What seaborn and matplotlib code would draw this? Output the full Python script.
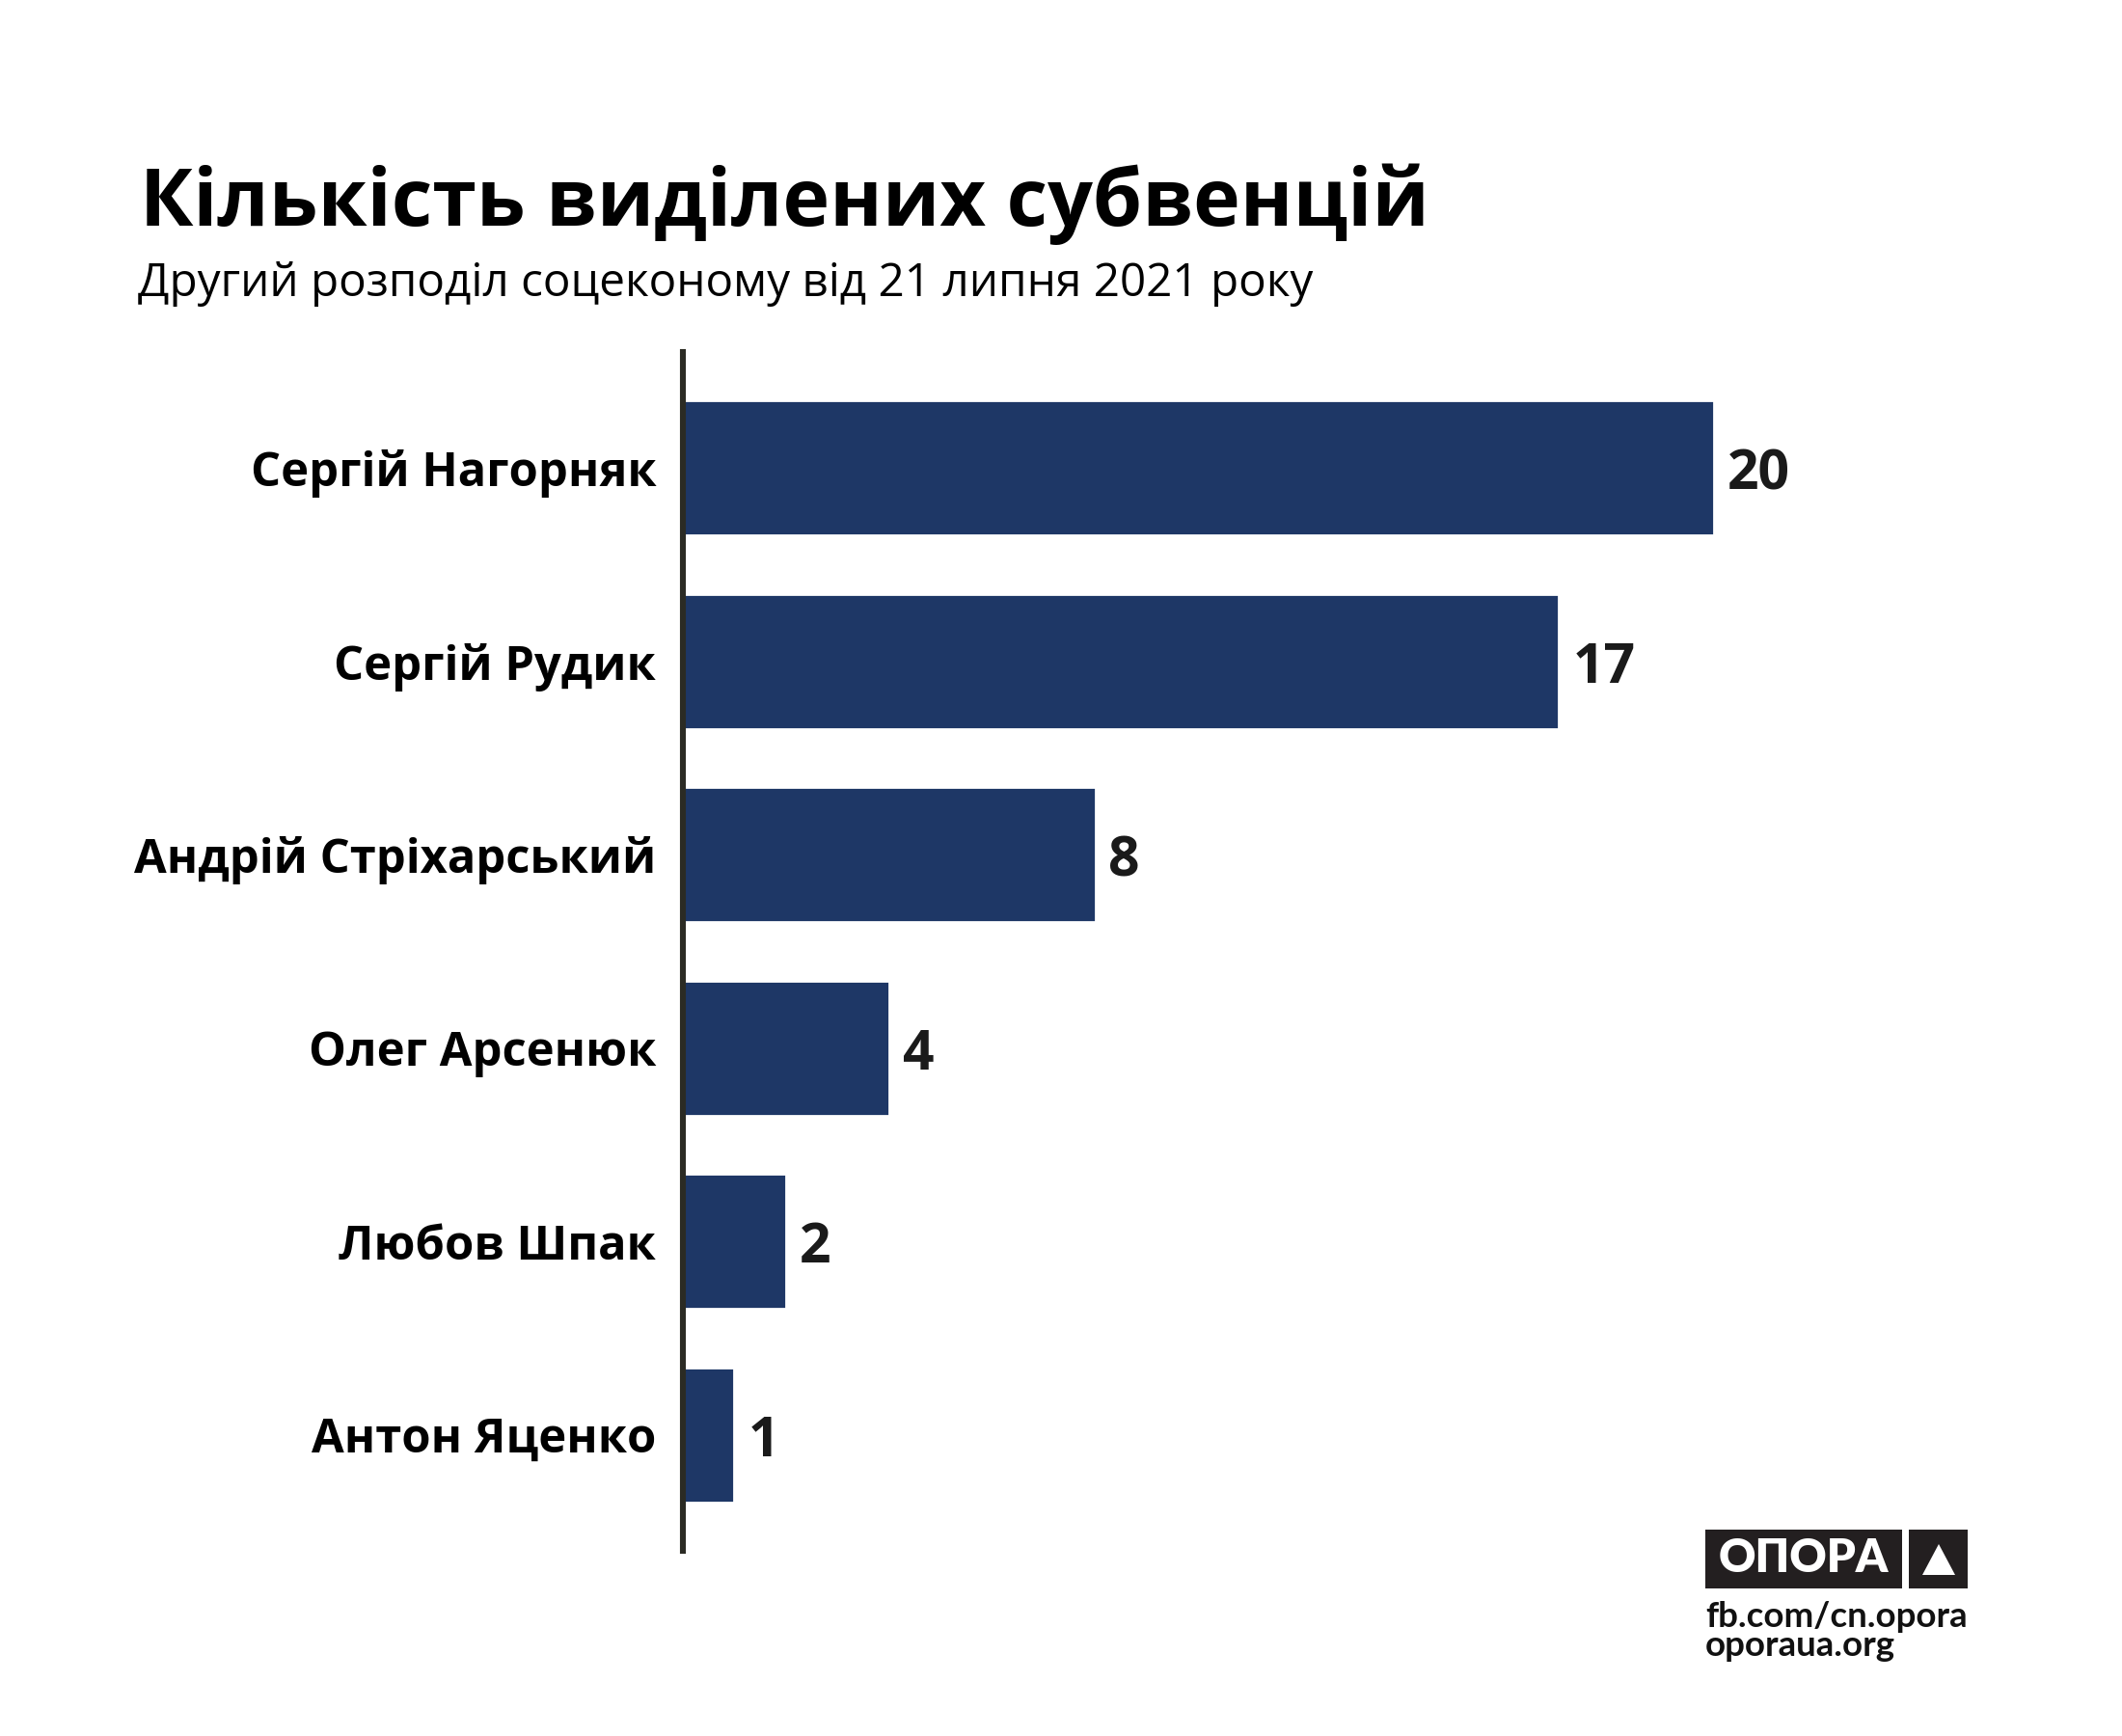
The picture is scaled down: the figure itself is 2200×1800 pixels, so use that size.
import matplotlib
matplotlib.use("Agg")
import matplotlib.pyplot as plt
import seaborn as sns
import pandas as pd
from matplotlib.patches import Rectangle, Polygon

names = ["Сергій Нагорняк", "Сергій Рудик", "Андрій Стріхарський",
         "Олег Арсенюк", "Любов Шпак", "Антон Яценко"]
counts = [20, 17, 8, 4, 2, 1]

title = "Кількість виділених субвенцій"
subtitle = "Другий розподіл соцеконому від 21 липня 2021 року"

BAR = "#1e3766"
W, H = 2200, 1800

sns.set_theme(style="white")
plt.rcParams["font.family"] = ["Open Sans", "DejaVu Sans"]

fig = plt.figure(figsize=(11, 9), dpi=200)
fig.patch.set_facecolor("white")

def fx(x):
    return x / W

def fy(y):
    return 1 - y / H

ax = fig.add_axes([fx(708), fy(1608), (2044 - 708) / W, (1608 - 365) / H])
df = pd.DataFrame({"name": names, "count": counts})
sns.barplot(data=df, x="count", y="name", orient="h", color=BAR,
            saturation=1, width=0.7, ax=ax)
ax.set_xlim(0, 25)
ax.set_ylim(5.6, -0.6)
for s in ["top", "right", "bottom"]:
    ax.spines[s].set_visible(False)
ax.spines["left"].set_linewidth(2.2)
ax.spines["left"].set_color("#2b2b24")
ax.set_xlabel("")
ax.set_ylabel("")
ax.set_xticks([])
ax.tick_params(axis="y", length=0, pad=10)
for lbl in ax.get_yticklabels():
    lbl.set_fontsize(17.6)
    lbl.set_fontweight("bold")
    lbl.set_color("black")
texts = ax.bar_label(ax.containers[0], padding=5, fontsize=20.5,
                     fontweight="bold", color="#1a1a1a")
for t in texts:
    t.set_va("center_baseline")

fig.text(fx(145), fy(234), title, fontsize=29.7, fontweight="bold",
         color="black", va="baseline", ha="left")
fig.text(fx(143), fy(307), subtitle, fontsize=17.15, color="black",
         va="baseline", ha="left")

# logo
fig.add_artist(Rectangle((fx(1768), fy(1647)), (1972 - 1768) / W, (1647 - 1586) / H,
                         transform=fig.transFigure, facecolor="#231f20", edgecolor="none"))
fig.add_artist(Rectangle((fx(1979), fy(1647)), (2040 - 1979) / W, (1647 - 1586) / H,
                         transform=fig.transFigure, facecolor="#231f20", edgecolor="none"))
fig.add_artist(Polygon([(fx(1993), fy(1633)), (fx(2027), fy(1633)), (fx(2010), fy(1601))],
                       closed=True, transform=fig.transFigure, facecolor="white",
                       edgecolor="none"))
fig.text(fx(1870), fy(1616), "ОПОРА", fontsize=17, fontweight="heavy", color="white",
         ha="center", va="center", family=["Lato", "DejaVu Sans"])
fig.text(fx(1768), fy(1687), "fb.com/cn.opora", fontsize=13.2, fontweight="bold",
         color="#111111", ha="left", va="baseline", family=["Lato", "DejaVu Sans"])
fig.text(fx(1768), fy(1717), "oporaua.org", fontsize=13.2, fontweight="bold",
         color="#111111", ha="left", va="baseline", family=["Lato", "DejaVu Sans"])

fig.savefig("out.png", dpi=200, facecolor="white")
